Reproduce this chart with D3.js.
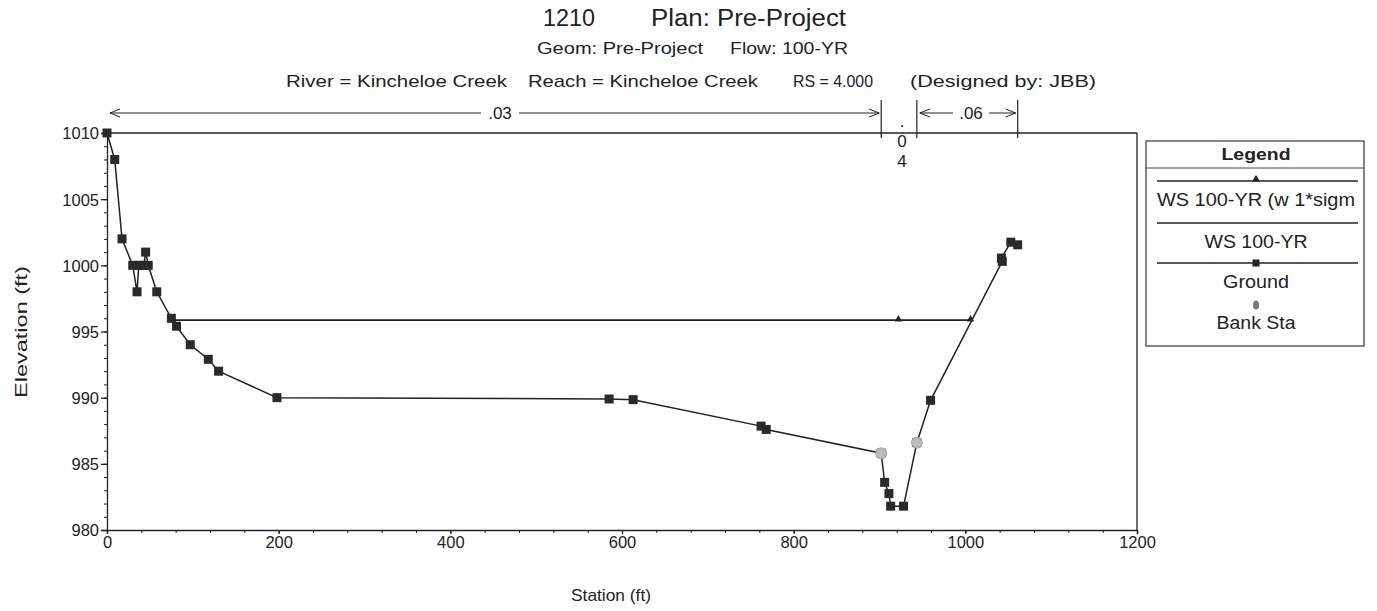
<!DOCTYPE html>
<html><head><meta charset="utf-8">
<script src="https://cdn.jsdelivr.net/npm/d3@7"></script>
<style>
body{margin:0;background:#fff;}
text{font-family:"Liberation Sans",Arial,sans-serif;fill:#222;}
</style></head>
<body>
<svg id="chart" width="1377" height="611"></svg>
<script>
// ---- data ----
const groundStation = [0, 9, 17.5, 30, 35, 37, 43, 45, 48, 58, 75, 81, 97, 118, 130, 198, 585, 613, 762, 768, 902, 906, 911, 913, 928, 943.5, 959.5, 1043, 1042, 1053, 1061];
const groundElev    = [1010, 1008, 1002, 1000, 998, 1000, 1000, 1001, 1000, 998, 996, 995.4, 994.0, 992.9, 992.0, 990.0, 989.9, 989.85, 987.85, 987.6, 985.8, 983.6, 982.75, 981.8, 981.8, 986.6, 989.8, 1000.3, 1000.55, 1001.75, 1001.55];
const wsStation = [75, 922, 1006];
const wsElev    = [995.85, 995.85, 995.85];
const wsSigmaStation = [75, 922, 1006];
const wsSigmaElev    = [995.85, 995.85, 995.85];
const bankStation = [902, 943.5];
const bankElev    = [985.8, 986.6];
const nValues   = [".03", ".04", ".06"];
const nStations = [0, 902, 943.5, 1061];
const xTicks = [0, 200, 400, 600, 800, 1000, 1200];
const yTicks = [980, 985, 990, 995, 1000, 1005, 1010];
const legendItems = ["WS 100-YR (w 1*sigm", "WS 100-YR", "Ground", "Bank Sta"];
const titleParts = ["1210", "Plan: Pre-Project"];
const subtitleParts = ["Geom: Pre-Project", "Flow: 100-YR"];
const infoParts = ["River = Kincheloe Creek", "Reach = Kincheloe Creek", "RS = 4.000", "(Designed by: JBB)"];

const svg = d3.select("#chart");
const L = 107, R = 1137, T = 133, B = 530;
const x = d3.scaleLinear().domain([0, 1200]).range([L, R]);
const y = d3.scaleLinear().domain([980, 1010]).range([B, T]);
const ink = "#222";

function txt(g, px, py, s, size, anchor, width, bold) {
  const t = g.append("text").attr("x", px).attr("y", py).attr("text-anchor", anchor || "start")
    .style("font-size", size + "px").text(s);
  if (bold) t.style("font-weight", "bold");
  if (width) t.attr("textLength", width).attr("lengthAdjust", "spacingAndGlyphs");
  return t;
}

// titles
txt(svg, 543, 26, titleParts[0], 23, "start", 52);
txt(svg, 651, 26, titleParts[1], 23, "start", 195);
txt(svg, 537, 54, subtitleParts[0], 17, "start", 166);
txt(svg, 730, 54, subtitleParts[1], 17, "start", 118);
txt(svg, 286, 87, infoParts[0], 17, "start", 221);
txt(svg, 528, 87, infoParts[1], 17, "start", 230);
txt(svg, 793, 87, infoParts[2], 17, "start", 80);
txt(svg, 910, 87, infoParts[3], 17, "start", 186);

// frame (top & right)
svg.append("line").attr("x1", L).attr("x2", R).attr("y1", T).attr("y2", T).attr("stroke", ink).attr("stroke-width", 1.3);
svg.append("line").attr("x1", R).attr("x2", R).attr("y1", T).attr("y2", B).attr("stroke", ink).attr("stroke-width", 1.3);

// axes
const yAxisMinor = d3.axisLeft(y).tickValues(d3.range(980, 1011, 1)).tickSize(3).tickFormat("");
svg.append("g").attr("transform", `translate(${L},0)`).call(yAxisMinor).call(g => g.select(".domain").remove()).selectAll("line").attr("stroke", ink);
const yAxis = d3.axisLeft(y).tickValues(yTicks).tickSize(6).tickPadding(2).tickFormat(d3.format("d"));
const gy = svg.append("g").attr("transform", `translate(${L},0)`).call(yAxis);
gy.selectAll("text").style("font-size", "16.5px").attr("fill", ink).attr("dy", "0.36em");
gy.selectAll("line,path").attr("stroke", ink).attr("stroke-width", 1.3);

const xAxisMinor = d3.axisBottom(x).tickValues(d3.range(0, 1201, 40)).tickSize(3).tickFormat("");
svg.append("g").attr("transform", `translate(0,${B})`).call(xAxisMinor).call(g => g.select(".domain").remove()).selectAll("line").attr("stroke", ink);
const xAxis = d3.axisBottom(x).tickValues(xTicks).tickSize(4).tickPadding(2).tickFormat(d3.format("d"));
const gx = svg.append("g").attr("transform", `translate(0,${B})`).call(xAxis);
gx.selectAll("text").style("font-size", "16.5px").attr("fill", ink);
gx.selectAll("line,path").attr("stroke", ink).attr("stroke-width", 1.3);

// axis titles
txt(svg, 0, 0, "Elevation (ft)", 17, "middle", 132).attr("transform", "translate(27,332) rotate(-90)");
txt(svg, 611, 601, "Station (ft)", 16.5, "middle", 80);

// Manning's n annotation
const nY = 113;
const arrowHead = (g, px, dir) => {
  g.append("path").attr("d", `M${px + dir*10},${nY-4} L${px},${nY} L${px + dir*10},${nY+4}`).attr("fill", "none").attr("stroke", ink).attr("stroke-width", 1);
};
const nG = svg.append("g");
nStations.forEach(s => {
  if (s === 0) return;
  nG.append("line").attr("x1", x(s)).attr("x2", x(s)).attr("y1", 100).attr("y2", T + 5).attr("stroke", ink).attr("stroke-width", 1.2);
});
// .03 segment
{
  const a = x(nStations[0]) + 3, b = x(nStations[1]) - 2, c = 500;
  nG.append("line").attr("x1", a).attr("x2", c - 19).attr("y1", nY).attr("y2", nY).attr("stroke", ink).attr("stroke-width", 1);
  nG.append("line").attr("x1", c + 19).attr("x2", b).attr("y1", nY).attr("y2", nY).attr("stroke", ink).attr("stroke-width", 1);
  arrowHead(nG, a, 1); arrowHead(nG, b, -1);
  txt(nG, c, nY + 6, nValues[0], 17, "middle");
}
// .04 (narrow, stacked vertical)
{
  const c = (x(nStations[1]) + x(nStations[2])) / 2 + 3;
  const chars = nValues[1].split("");
  const ys = [127, 147, 167];
  chars.forEach((ch, i) => txt(nG, c, ys[i], ch, 17, "middle"));
}
// .06 segment
{
  const a = x(nStations[2]) + 3, b = x(nStations[3]) - 2, c = 971;
  nG.append("line").attr("x1", a).attr("x2", c - 18).attr("y1", nY).attr("y2", nY).attr("stroke", ink).attr("stroke-width", 1);
  nG.append("line").attr("x1", c + 18).attr("x2", b).attr("y1", nY).attr("y2", nY).attr("stroke", ink).attr("stroke-width", 1);
  arrowHead(nG, a, 1); arrowHead(nG, b, -1);
  txt(nG, c, nY + 6, nValues[2], 17, "middle");
}

// WS lines
const line = d3.line().x(d => x(d[0])).y(d => y(d[1]));
const ws = wsStation.map((s, i) => [s, wsElev[i]]);
const wsS = wsSigmaStation.map((s, i) => [s, wsSigmaElev[i]]);
svg.append("path").datum(ws).attr("d", line).attr("fill", "none").attr("stroke", ink).attr("stroke-width", 1.3);
svg.append("path").datum(wsS).attr("d", line).attr("fill", "none").attr("stroke", ink).attr("stroke-width", 1.3);
const tri = d3.symbol().type(d3.symbolTriangle).size(24);
svg.append("g").selectAll("path").data(wsS).join("path").attr("d", tri).attr("transform", d => `translate(${x(d[0])},${y(d[1]) - 1})`).attr("fill", ink);

// Ground
const ground = groundStation.map((s, i) => [s, groundElev[i]]);
svg.append("path").datum(ground).attr("d", line).attr("fill", "none").attr("stroke", ink).attr("stroke-width", 1.5);
svg.append("g").selectAll("rect").data(ground).join("rect")
  .attr("x", d => x(d[0]) - 4.5).attr("y", d => y(d[1]) - 4.5).attr("width", 9).attr("height", 9).attr("fill", "#2a2a2a");

// Bank stations
svg.append("g").selectAll("circle").data(bankStation.map((s, i) => [s, bankElev[i]])).join("circle")
  .attr("cx", d => x(d[0])).attr("cy", d => y(d[1])).attr("r", 5.5).attr("fill", "#bbb").attr("stroke", "#999").attr("stroke-width", 0.8);

// Legend
const lg = svg.append("g");
const LX = 1146, LY = 141, LW = 218, LH = 205;
lg.append("rect").attr("x", LX).attr("y", LY).attr("width", LW).attr("height", LH).attr("fill", "none").attr("stroke", "#444").attr("stroke-width", 1.3);
lg.append("line").attr("x1", LX).attr("x2", LX + LW).attr("y1", 168).attr("y2", 168).attr("stroke", "#444").attr("stroke-width", 1.2);
const lc = 1256;
txt(lg, lc, 160, "Legend", 17, "middle", 69, true);
const lx1 = 1157, lx2 = 1358;
// WS sigma
lg.append("line").attr("x1", lx1).attr("x2", lx2).attr("y1", 181).attr("y2", 181).attr("stroke", ink).attr("stroke-width", 1.3);
lg.append("path").attr("d", tri).attr("transform", `translate(${lc},179)`).attr("fill", ink);
txt(lg, lc, 206, legendItems[0], 17.5, "middle", 198);
// WS
lg.append("line").attr("x1", lx1).attr("x2", lx2).attr("y1", 223).attr("y2", 223).attr("stroke", ink).attr("stroke-width", 1.3);
txt(lg, lc, 248, legendItems[1], 17.5, "middle", 103);
// Ground
lg.append("line").attr("x1", lx1).attr("x2", lx2).attr("y1", 263).attr("y2", 263).attr("stroke", ink).attr("stroke-width", 1.3);
lg.append("rect").attr("x", lc - 3.5).attr("y", 259.5).attr("width", 7).attr("height", 7).attr("fill", ink);
txt(lg, lc, 288, legendItems[2], 17.5, "middle", 66);
// Bank
lg.append("ellipse").attr("cx", lc).attr("cy", 305).attr("rx", 3).attr("ry", 4.5).attr("fill", "#777");
txt(lg, lc, 329, legendItems[3], 17.5, "middle", 79);
</script>
</body></html>
